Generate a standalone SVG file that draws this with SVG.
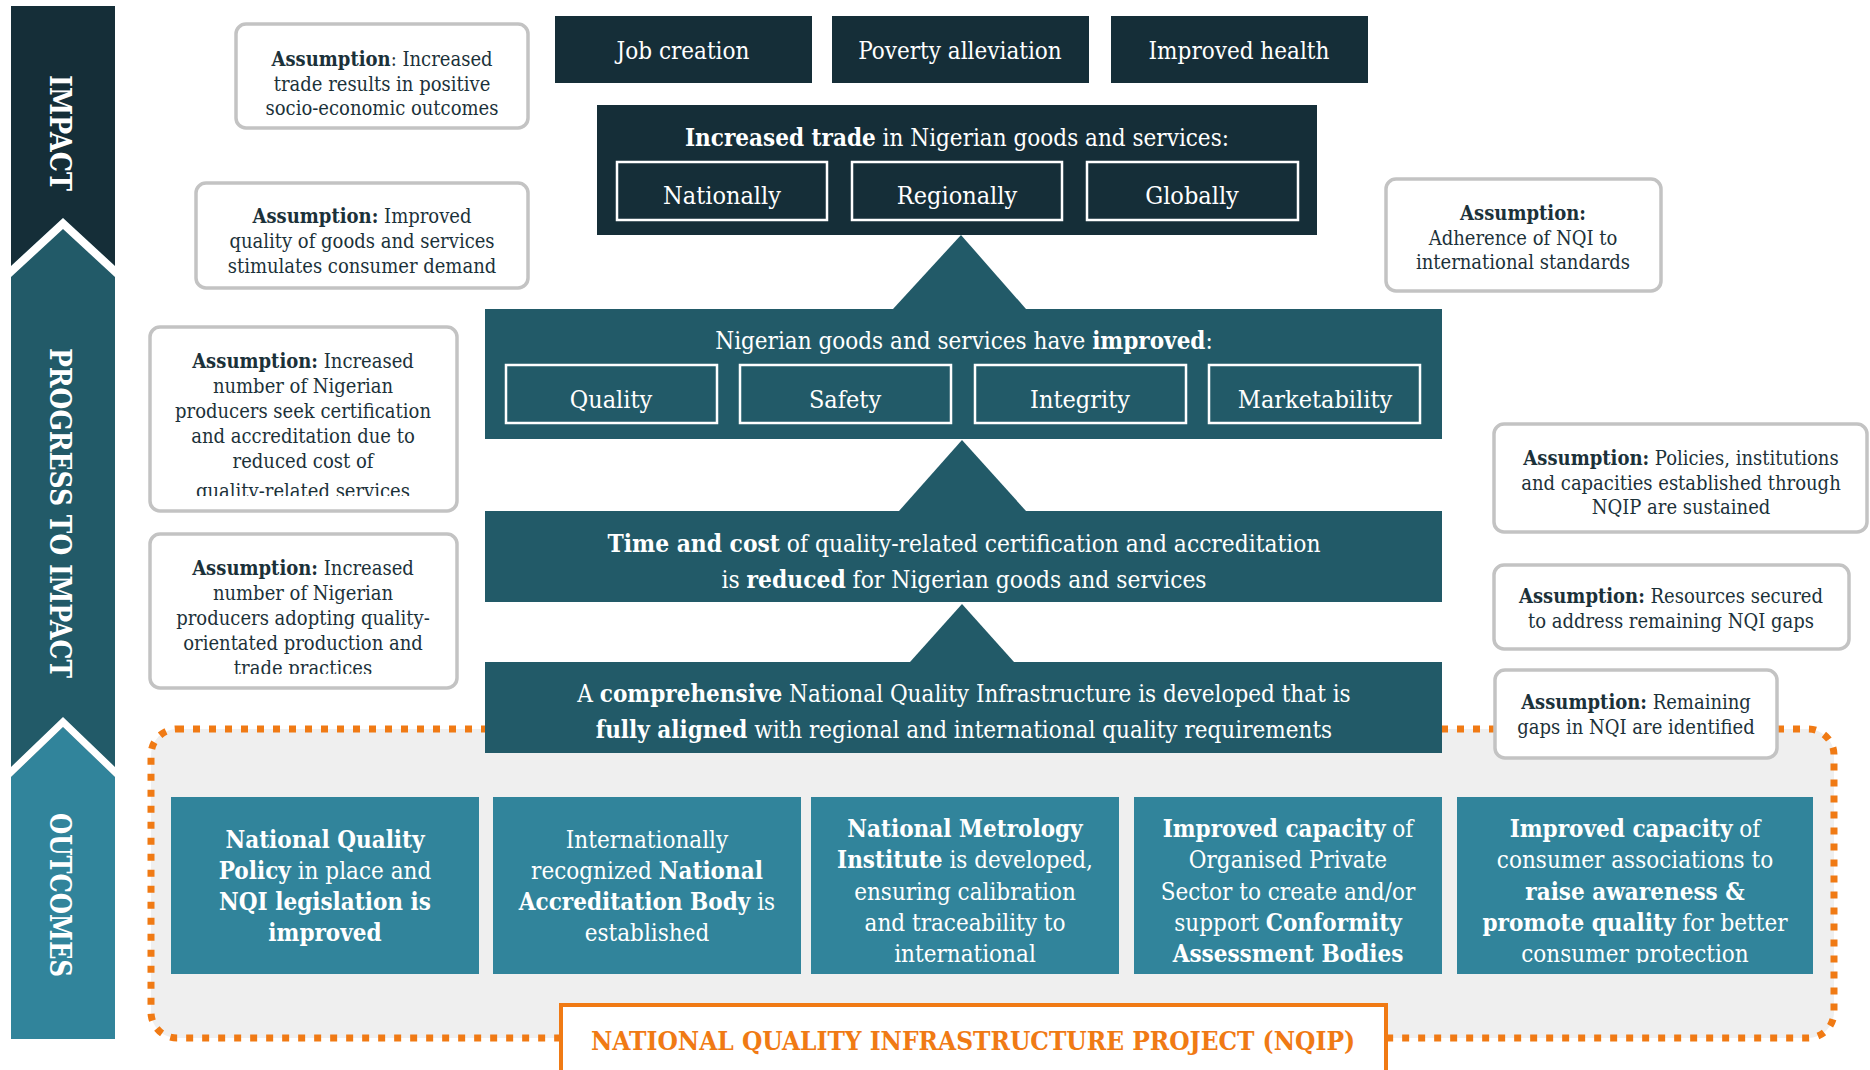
<svg xmlns="http://www.w3.org/2000/svg" width="1870" height="1070" viewBox="0 0 1870 1070">
<defs>
<style>
text{font-family:"DejaVu Serif Condensed","DejaVu Serif","Liberation Serif",serif;}
.w{fill:#ffffff;}
.d{fill:#1b3139;}
.t24{font-size:24px;}
.t25{font-size:25px;}
.a{font-size:20px;fill:#1b3139;text-anchor:middle;}
.c{text-anchor:middle;}
.b{font-weight:bold;}
.dark{fill:#152e38;}
.mid{fill:#225a68;}
.lt{fill:#31849b;}
.asm{fill:#ffffff;stroke:#c3c3c3;stroke-width:3.5;}
.sub{fill:none;stroke:#ffffff;stroke-width:2.5;}
.band{font-size:30px;font-weight:bold;fill:#ffffff;}
</style>
<clipPath id="clipA7"><rect x="150" y="327" width="307" height="169"/></clipPath>
<clipPath id="clipA8"><rect x="150" y="534" width="307" height="140"/></clipPath>
<clipPath id="clipOut"><rect x="160" y="790" width="1670" height="173"/></clipPath>
</defs>

<!-- Left band -->
<g id="band">
<rect x="11" y="6" width="104" height="280" class="dark"/>
<polygon points="11,266 63,218 115,266 115,780 11,780" class="mid"/>
<polygon points="11,266 63,218 115,266 115,277 63,229 11,277" fill="#ffffff"/>
<polygon points="11,777 63,727 115,777 115,1039 11,1039" class="lt"/>
<polygon points="11,767 63,717 115,767 115,777 63,727 11,777" fill="#ffffff"/>
<text class="band c" transform="translate(50,133) rotate(90)" textLength="116" lengthAdjust="spacingAndGlyphs">IMPACT</text>
<text class="band c" transform="translate(50,513) rotate(90)" textLength="330" lengthAdjust="spacingAndGlyphs">PROGRESS TO IMPACT</text>
<text class="band c" transform="translate(50,895) rotate(90)" textLength="164" lengthAdjust="spacingAndGlyphs">OUTCOMES</text>
</g>

<!-- Outcomes container -->
<g id="nqip-container">
<rect x="151" y="729" width="1683" height="309" rx="26" fill="#efefef" stroke="#f07a14" stroke-width="7" stroke-dasharray="7 9"/>
</g>

<!-- Connectors -->
<g id="connectors">
<polygon points="961,235 1026,309 893,309" class="mid"/>
<polygon points="962,440 1026,511 899,511" class="mid"/>
<polygon points="962,604 1014,662 910,662" class="mid"/>
</g>

<!-- Impact boxes -->
<g id="job-creation">
<rect x="555" y="16" width="257" height="67" class="dark"/>
<text x="683" y="59" class="w c t24">Job creation</text>
</g>
<g id="poverty-alleviation">
<rect x="832" y="16" width="257" height="67" class="dark"/>
<text x="960" y="59" class="w c t24">Poverty alleviation</text>
</g>
<g id="improved-health">
<rect x="1111" y="16" width="257" height="67" class="dark"/>
<text x="1239" y="59" class="w c t24">Improved health</text>
</g>

<g id="increased-trade">
<rect x="597" y="105" width="720" height="130" class="dark"/>
<text x="957" y="146" class="w c t24"><tspan class="b">Increased trade</tspan> in Nigerian goods and services:</text>
<rect x="617" y="162" width="210" height="58" class="sub"/>
<text x="722" y="204" class="w c t25">Nationally</text>
<rect x="852" y="162" width="210" height="58" class="sub"/>
<text x="957" y="204" class="w c t25">Regionally</text>
<rect x="1087" y="162" width="211" height="58" class="sub"/>
<text x="1192" y="204" class="w c t25">Globally</text>
</g>

<g id="improved-goods">
<rect x="485" y="309" width="957" height="130" class="mid"/>
<text x="964" y="349" class="w c t24">Nigerian goods and services have <tspan class="b">improved</tspan>:</text>
<rect x="506" y="365" width="211" height="58" class="sub"/>
<text x="611" y="408" class="w c t25">Quality</text>
<rect x="740" y="365" width="211" height="58" class="sub"/>
<text x="845" y="408" class="w c t25">Safety</text>
<rect x="975" y="365" width="211" height="58" class="sub"/>
<text x="1080" y="408" class="w c t25">Integrity</text>
<rect x="1209" y="365" width="211" height="58" class="sub"/>
<text x="1315" y="408" class="w c t25">Marketability</text>
</g>

<g id="time-cost">
<rect x="485" y="511" width="957" height="91" class="mid"/>
<text x="964" y="552" class="w c" font-size="24.3"><tspan class="b">Time and cost</tspan> of quality-related certification and accreditation</text>
<text x="964" y="588" class="w c" font-size="24.3">is <tspan class="b">reduced</tspan> for Nigerian goods and services</text>
</g>

<g id="comprehensive-nqi">
<rect x="485" y="662" width="957" height="91" class="mid"/>
<text x="964" y="702" class="w c t24">A <tspan class="b">comprehensive</tspan> National Quality Infrastructure is developed that is</text>
<text x="964" y="738" class="w c t24"><tspan class="b">fully aligned</tspan> with regional and international quality requirements</text>
</g>

<!-- Outcome boxes -->
<g id="outcome-policy">
<rect x="171" y="797" width="308" height="177" class="lt"/>
<g clip-path="url(#clipOut)">
<text x="325" y="848" class="w c t24 b">National Quality</text>
<text x="325" y="879" class="w c t24"><tspan class="b">Policy</tspan> in place and</text>
<text x="325" y="910" class="w c t24 b">NQI legislation is</text>
<text x="325" y="941" class="w c t24 b">improved</text>
</g>
</g>
<g id="outcome-accreditation">
<rect x="493" y="797" width="308" height="177" class="lt"/>
<g clip-path="url(#clipOut)">
<text x="647" y="848" class="w c t24">Internationally</text>
<text x="647" y="879" class="w c t24">recognized <tspan class="b">National</tspan></text>
<text x="647" y="910" class="w c t24"><tspan class="b">Accreditation Body</tspan> is</text>
<text x="647" y="941" class="w c t24">established</text>
</g>
</g>
<g id="outcome-metrology">
<rect x="811" y="797" width="308" height="177" class="lt"/>
<g clip-path="url(#clipOut)">
<text x="965" y="837" class="w c t24 b">National Metrology</text>
<text x="965" y="868" class="w c t24"><tspan class="b">Institute</tspan> is developed,</text>
<text x="965" y="900" class="w c t24">ensuring calibration</text>
<text x="965" y="931" class="w c t24">and traceability to</text>
<text x="965" y="962" class="w c t24">international</text>
</g>
</g>
<g id="outcome-private-sector">
<rect x="1134" y="797" width="308" height="177" class="lt"/>
<g clip-path="url(#clipOut)">
<text x="1288" y="837" class="w c t24"><tspan class="b">Improved capacity</tspan> of</text>
<text x="1288" y="868" class="w c t24">Organised Private</text>
<text x="1288" y="900" class="w c t24">Sector to create and/or</text>
<text x="1288" y="931" class="w c t24">support <tspan class="b">Conformity</tspan></text>
<text x="1288" y="962" class="w c t24 b">Assessment Bodies</text>
</g>
</g>
<g id="outcome-consumers">
<rect x="1457" y="797" width="356" height="177" class="lt"/>
<g clip-path="url(#clipOut)">
<text x="1635" y="837" class="w c t24"><tspan class="b">Improved capacity</tspan> of</text>
<text x="1635" y="868" class="w c t24">consumer associations to</text>
<text x="1635" y="900" class="w c t24 b">raise awareness &amp;</text>
<text x="1635" y="931" class="w c t24"><tspan class="b">promote quality</tspan> for better</text>
<text x="1635" y="962" class="w c t24">consumer protection</text>
</g>
</g>

<g id="nqip-label">
<rect x="561" y="1005" width="825" height="80" fill="#ffffff" stroke="#f07a14" stroke-width="4"/>
<text x="973" y="1050" class="c b" font-size="26" fill="#f07a14">NATIONAL QUALITY INFRASTRUCTURE PROJECT (NQIP)</text>
</g>

<!-- Assumptions -->
<g id="assumption-1">
<rect x="236" y="24" width="292" height="104" rx="10" class="asm"/>
<text x="382" y="66" class="a"><tspan class="b">Assumption</tspan>: Increased</text>
<text x="382" y="91" class="a">trade results in positive</text>
<text x="382" y="115" class="a">socio-economic outcomes</text>
</g>
<g id="assumption-2">
<rect x="196" y="183" width="332" height="105" rx="10" class="asm"/>
<text x="362" y="223" class="a"><tspan class="b">Assumption:</tspan> Improved</text>
<text x="362" y="248" class="a">quality of goods and services</text>
<text x="362" y="273" class="a">stimulates consumer demand</text>
</g>
<g id="assumption-3">
<rect x="1386" y="179" width="275" height="112" rx="10" class="asm"/>
<text x="1523" y="220" class="a b">Assumption:</text>
<text x="1523" y="245" class="a">Adherence of NQI to</text>
<text x="1523" y="269" class="a">international standards</text>
</g>
<g id="assumption-4">
<rect x="1494" y="424" width="373" height="108" rx="10" class="asm"/>
<text x="1681" y="465" class="a"><tspan class="b">Assumption:</tspan> Policies, institutions</text>
<text x="1681" y="490" class="a">and capacities established through</text>
<text x="1681" y="514" class="a">NQIP are sustained</text>
</g>
<g id="assumption-5">
<rect x="1494" y="565" width="355" height="84" rx="10" class="asm"/>
<text x="1671" y="603" class="a"><tspan class="b">Assumption:</tspan> Resources secured</text>
<text x="1671" y="628" class="a">to address remaining NQI gaps</text>
</g>
<g id="assumption-6">
<rect x="1495" y="670" width="282" height="88" rx="10" class="asm"/>
<text x="1636" y="709" class="a"><tspan class="b">Assumption:</tspan> Remaining</text>
<text x="1636" y="734" class="a">gaps in NQI are identified</text>
</g>
<g id="assumption-7">
<rect x="150" y="327" width="307" height="184" rx="10" class="asm"/>
<g clip-path="url(#clipA7)">
<text x="303" y="368" class="a"><tspan class="b">Assumption:</tspan> Increased</text>
<text x="303" y="393" class="a">number of Nigerian</text>
<text x="303" y="418" class="a">producers seek certification</text>
<text x="303" y="443" class="a">and accreditation due to</text>
<text x="303" y="468" class="a">reduced cost of</text>
<text x="303" y="498" class="a">quality-related services</text>
</g>
</g>
<g id="assumption-8">
<rect x="150" y="534" width="307" height="154" rx="10" class="asm"/>
<g clip-path="url(#clipA8)">
<text x="303" y="575" class="a"><tspan class="b">Assumption:</tspan> Increased</text>
<text x="303" y="600" class="a">number of Nigerian</text>
<text x="303" y="625" class="a">producers adopting quality-</text>
<text x="303" y="650" class="a">orientated production and</text>
<text x="303" y="675" class="a">trade practices</text>
</g>
</g>
</svg>
